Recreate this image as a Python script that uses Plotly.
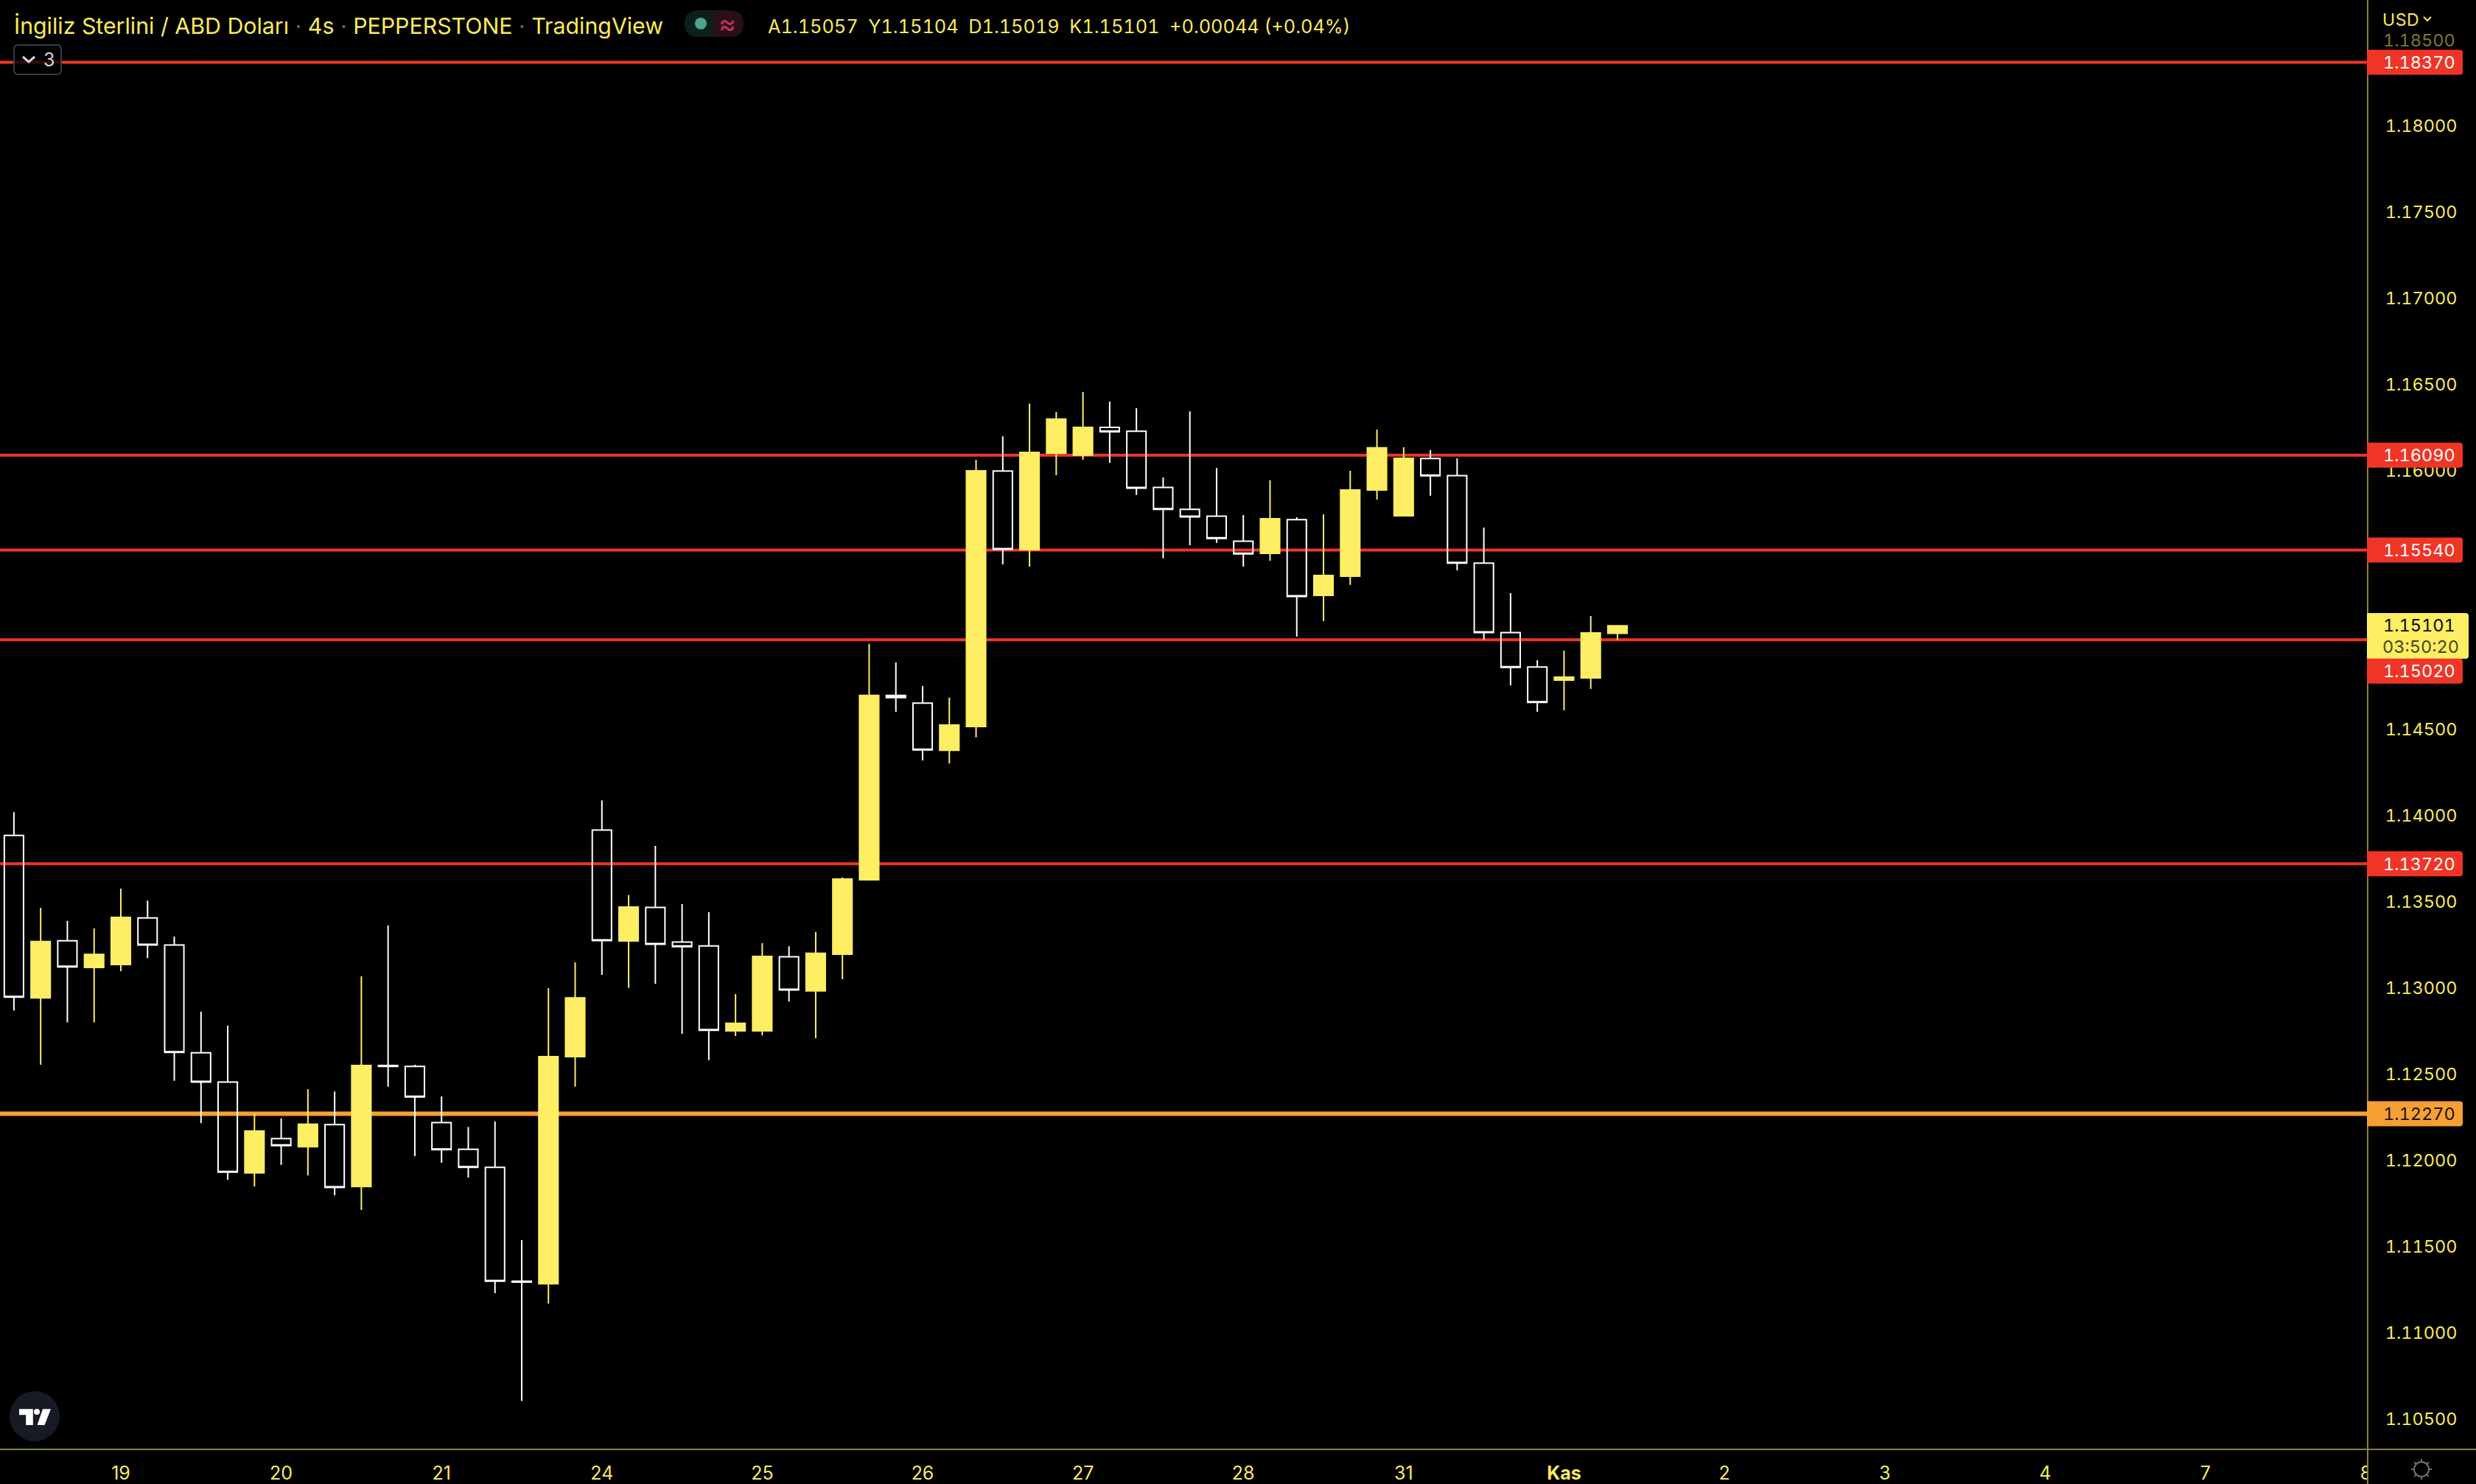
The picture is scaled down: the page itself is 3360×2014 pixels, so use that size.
import math
import plotly.graph_objects as go

candle_index = list(range(61))
opens = [1.13885,1.12943,1.13274,1.13119,1.13136,1.13406,1.13249,1.12624,1.12454,1.11927,
         1.12126,1.12079,1.12207,1.11848,1.12550,1.12545,1.12219,1.12064,1.11959,1.11299,
         1.11284,1.12602,1.13916,1.13273,1.13467,1.13266,1.13244,1.12751,1.12751,1.13181,
         1.12983,1.13196,1.13628,1.14697,1.14652,1.14379,1.14517,1.15999,1.15542,1.16102,
         1.16090,1.16252,1.16229,1.15904,1.15776,1.15737,1.15591,1.15521,1.15716,1.15277,
         1.15388,1.15889,1.15739,1.16071,1.15972,1.15464,1.15061,1.14862,1.14786,1.14799,1.15057]
highs = [1.14020,1.13465,1.13389,1.13345,1.13576,1.13507,1.13298,1.12862,1.12781,1.12273,
         1.12243,1.12413,1.12400,1.13068,1.13362,1.12555,1.12371,1.12194,1.12226,1.11537,
         1.12999,1.13149,1.14088,1.13539,1.13824,1.13486,1.13441,1.12965,1.13260,1.13242,
         1.13325,1.13641,1.14996,1.14888,1.14752,1.14684,1.16064,1.16201,1.16390,1.16342,
         1.16457,1.16401,1.16363,1.15961,1.16345,1.16017,1.15743,1.15945,1.15730,1.15748,
         1.16000,1.16239,1.16136,1.16120,1.16072,1.15671,1.15290,1.14901,1.14957,1.15158,1.15104]
lows = [1.12869,1.12555,1.12800,1.12800,1.13097,1.13173,1.12462,1.12216,1.11888,1.11848,
        1.11973,1.11912,1.11797,1.11713,1.12427,1.12025,1.11986,1.11900,1.11230,1.10604,
        1.11169,1.12427,1.13076,1.13000,1.13024,1.12734,1.12581,1.12721,1.12725,1.12921,
        1.12708,1.13050,1.13628,1.14602,1.14320,1.14302,1.14453,1.15457,1.15444,1.15974,
        1.16064,1.16046,1.15860,1.15492,1.15568,1.15582,1.15444,1.15478,1.15038,1.15128,
        1.15338,1.15833,1.15739,1.15855,1.15423,1.15020,1.14755,1.14602,1.14611,1.14735,1.15019]
closes = [1.12947,1.13269,1.13122,1.13195,1.13409,1.13249,1.12626,1.12454,1.11932,1.12170,
          1.12086,1.12209,1.11843,1.12550,1.12545,1.12368,1.12062,1.11959,1.11299,1.11294,
          1.12602,1.12943,1.13275,1.13469,1.13253,1.13240,1.12754,1.12795,1.13183,1.12989,
          1.13201,1.13632,1.14697,1.14684,1.14381,1.14525,1.16000,1.15544,1.16107,1.16300,
          1.16252,1.16226,1.15899,1.15776,1.15732,1.15608,1.15518,1.15722,1.15271,1.15393,
          1.15889,1.16133,1.16072,1.15971,1.15464,1.15061,1.14860,1.14656,1.14803,1.15059,1.15101]

red_levels = [1.18370, 1.16090, 1.15540, 1.13720, 1.15020]
orange_level = 1.12270
last_price = 1.15101
y_tick_values = [1.105,1.11,1.115,1.12,1.125,1.13,1.135,1.14,1.145,1.16,1.165,1.17,1.175,1.18]
x_tick_values = [4,10,16,22,28,34,40,46,52,58,64,70,76,82,88]
x_tick_labels = ["19","20","21","24","25","26","27","28","31","<b>Kas</b>","2","3","4","7","8"]

W, H = 3360, 2014
PX, PY = 3213, 1967
Y_TOP, Y_BOT = 1.187309, 1.103235
YEL = "#FDEE63"; TXT = "#FBEB58"; RED = "#EF3526"; ORG = "#F5A035"; AXC = "#8E8334"
FONT = "Inter"
NUM = 23.5

def sp(s, ls=0):
    return f'<span style="font-feature-settings:\'tnum\';letter-spacing:{ls}px">{s}</span>'

def fx(x): return x / PX
def fy(y): return 1 - y / PY
def price_y(p): return (Y_TOP - p) / (Y_TOP - Y_BOT) * PY

def rrect(x0, y0, x1, y1, r, left=True):
    rl = r if left else 0
    pts = [f"M{fx(x0+rl)},{fy(y0)}", f"L{fx(x1-r)},{fy(y0)}", f"Q{fx(x1)},{fy(y0)} {fx(x1)},{fy(y0+r)}",
           f"L{fx(x1)},{fy(y1-r)}", f"Q{fx(x1)},{fy(y1)} {fx(x1-r)},{fy(y1)}", f"L{fx(x0+rl)},{fy(y1)}"]
    if left:
        pts += [f"Q{fx(x0)},{fy(y1)} {fx(x0)},{fy(y1-r)}", f"L{fx(x0)},{fy(y0+r)}", f"Q{fx(x0)},{fy(y0)} {fx(x0+r)},{fy(y0)}"]
    return "".join(pts) + "Z"

def poly(points):
    return "M" + "L".join(f"{fx(x)},{fy(y)}" for x, y in points) + "Z"

def pline(points):
    return "M" + "L".join(f"{fx(x)},{fy(y)}" for x, y in points)

def pshape(path, fill="rgba(0,0,0,0)", line=None, width=0, layer="above"):
    return dict(type="path", xref="paper", yref="paper", path=path, fillcolor=fill, layer=layer,
                line=dict(color=line or "rgba(0,0,0,0)", width=width))

def circle(cx, cy, r, fill="rgba(0,0,0,0)", line=None, width=0):
    return dict(type="circle", xref="paper", yref="paper", x0=fx(cx-r), x1=fx(cx+r), y0=fy(cy+r), y1=fy(cy-r),
                fillcolor=fill, layer="above", line=dict(color=line or "rgba(0,0,0,0)", width=width))

shapes = []
# level lines under the candles
for lv in red_levels:
    shapes.append(dict(type="line", xref="paper", x0=0, x1=1, yref="y", y0=lv, y1=lv, layer="below",
                       line=dict(color=RED, width=4)))
shapes.append(dict(type="line", xref="paper", x0=0, x1=1, yref="y", y0=orange_level, y1=orange_level, layer="below",
                   line=dict(color=ORG, width=6)))
# cover for the clipped last date label, then axis borders
shapes.append(pshape(poly([(PX, PY), (W, PY), (W, H), (PX, H)]), fill="#000000"))
shapes.append(dict(type="line", xref="paper", yref="paper", x0=fx(0), x1=fx(W), y0=fy(PY), y1=fy(PY), layer="above",
                   line=dict(color=AXC, width=2)))
shapes.append(dict(type="line", xref="paper", yref="paper", x0=1, x1=1, y0=fy(0), y1=fy(H), layer="above",
                   line=dict(color=AXC, width=2)))
# last price box
shapes.append(pshape(rrect(3212, 832, 3350, 894, 4, left=False), fill=YEL))
# level labels
LABEL_OFFSET = {1.15020: 910.7}
anns = []
def text(x, y, s, color=TXT, size=NUM, anchor="left", family=FONT):
    anns.append(dict(xref="paper", yref="paper", x=fx(x), y=fy(y), text=s, showarrow=False, xanchor=anchor,
                     yanchor="middle", align="left", font=dict(family=family, size=size, color=color),
                     borderpad=0, borderwidth=0))

for lv in red_levels:
    cy = LABEL_OFFSET.get(lv, price_y(lv))
    shapes.append(pshape(rrect(3212, cy-17, 3342, cy+17, 4, left=False), fill=RED))
    text(3234, cy, sp(f"{lv:.5f}"), color="#FFFFFF")
cy = price_y(orange_level)
shapes.append(pshape(rrect(3212, cy-17, 3342, cy+17, 4, left=False), fill=ORG))
text(3234, cy, sp(f"{orange_level:.5f}"), color="#1a1405")
text(3234, 849, sp(f"{last_price:.5f}"), color="#0a0a00")
text(3233, 877, sp("03:50:20"), color="#4a4518")

# fading top tick, currency
text(3234, 54, sp("1.18500"), color="#7f7730")
text(3233, 27, sp("USD", 0.6), size=23)
shapes.append(pshape(pline([(3289, 23), (3294, 28), (3299, 23)]), line=TXT, width=2))

# header
dot = '<span style="color:#6b6b55"> · </span>'
text(19, 35, f"İngiliz Sterlini / ABD Doları{dot}4s{dot}PEPPERSTONE{dot}TradingView", size=30.3)
text(1042, 35, sp("A1.15057  Y1.15104  D1.15019  K1.15101  +0.00044 (+0.04%)"), size=25.3)
# status pill
shapes.append(pshape(f"M{fx(969)},{fy(14)}L{fx(947)},{fy(14)}Q{fx(929)},{fy(14)} {fx(929)},{fy(32)}Q{fx(929)},{fy(50)} {fx(947)},{fy(50)}L{fx(969)},{fy(50)}Z", fill="#0D1F1B"))
shapes.append(pshape(f"M{fx(969)},{fy(14)}L{fx(991)},{fy(14)}Q{fx(1009)},{fy(14)} {fx(1009)},{fy(32)}Q{fx(1009)},{fy(50)} {fx(991)},{fy(50)}L{fx(969)},{fy(50)}Z", fill="#2A0E18"))
shapes.append(circle(951, 32, 8, fill="#4BA58F"))
text(987, 32, "≈", color="#C2305F", size=36, anchor="center")
# collapse button
shapes.append(pshape(rrect(19, 61, 83, 101, 6), fill="rgba(0,0,0,0.78)", line="#363A45", width=2))
shapes.append(pshape(pline([(31, 77), (39, 84), (47, 77)]), line="#D1D4DC", width=3))
text(66, 81, "3", color="#D1D4DC", size=25, anchor="center")
# logo
shapes.append(circle(47, 1922, 34, fill="#161A25"))
shapes.append(pshape(poly([(26, 1912.3), (44.8, 1912.3), (44.8, 1934), (35.2, 1934), (35.2, 1920.3), (26, 1920.3)]), fill="#FFFFFF"))
shapes.append(circle(50, 1916, 4, fill="#FFFFFF"))
shapes.append(pshape(poly([(58, 1912.3), (69, 1912.3), (60.5, 1934), (50.5, 1934)]), fill="#FFFFFF"))
# gear
GC = "#6F7179"
shapes.append(circle(3286, 1994, 10, line=GC, width=2))
for k in range(8):
    a = k * math.pi / 4
    shapes.append(pshape(pline([(3286 + 10*math.cos(a), 1994 + 10*math.sin(a)), (3286 + 14*math.cos(a), 1994 + 14*math.sin(a))]), line=GC, width=2))

fig = go.Figure(go.Candlestick(
    x=candle_index, open=opens, high=highs, low=lows, close=closes,
    increasing=dict(fillcolor=YEL, line=dict(color=YEL, width=2)),
    decreasing=dict(fillcolor="rgba(0,0,0,0)", line=dict(color="#FFFFFF", width=2)),
    whiskerwidth=0, hoverinfo="skip", showlegend=False,
))
fig.update_layout(
    width=W, height=H, autosize=False, paper_bgcolor="#000000", plot_bgcolor="#000000",
    margin=dict(l=0, r=W-PX, t=0, b=H-PY, autoexpand=False), boxgap=0.28, boxgroupgap=0, showlegend=False,
    shapes=shapes, annotations=anns, font=dict(family=FONT, color=TXT, size=24),
    xaxis=dict(range=[-0.521, 88.07], tickmode="array", tickvals=x_tick_values, ticktext=x_tick_labels,
               showgrid=False, zeroline=False, showline=False, rangeslider=dict(visible=False), automargin=False,
               ticks="outside", ticklen=10, tickcolor="#000000", tickfont=dict(family=FONT, size=25, color=TXT)),
    yaxis=dict(range=[Y_BOT, Y_TOP], side="right", tickmode="array", tickvals=y_tick_values, automargin=False,
               ticktext=[sp(f"{v:.5f}") for v in y_tick_values], showgrid=False, zeroline=False, showline=False,
               ticks="outside", ticklen=18, tickcolor="#000000", tickfont=dict(family=FONT, size=NUM, color=TXT)),
)
fig.write_html("out.html", config=dict(displayModeBar=False),
               post_script="document.body.style.margin='0';document.body.style.background='#000';document.body.style.overflow='hidden';")
